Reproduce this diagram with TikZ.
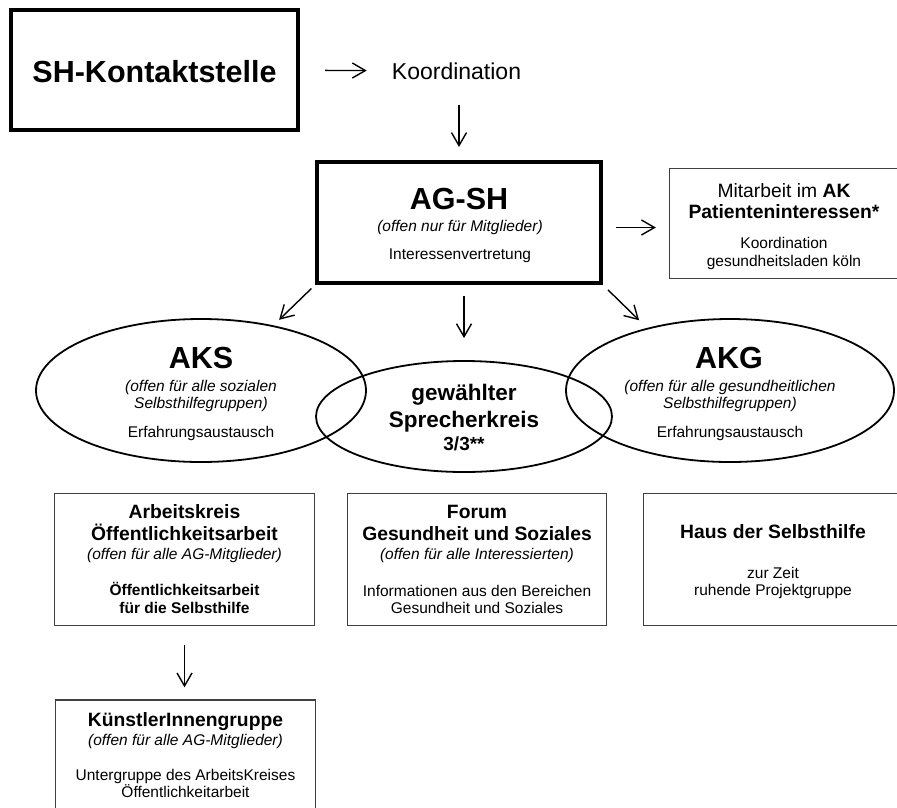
\documentclass[tikz,border=0pt]{standalone}
\usepackage{fontspec}
\setmainfont{Liberation Sans}
\usetikzlibrary{positioning}
\usetikzlibrary{arrows.meta,shapes.geometric}
\usetikzlibrary{calc}
\tikzstyle{thickbox}=[draw,line width=4pt,inner sep=0pt]
\tikzstyle{thinbox}=[draw=black!75,line width=1.3pt,inner sep=0pt]
\tikzstyle{circlegroup}=[ellipse,draw,line width=1.8pt,inner sep=0pt]
\tikzstyle{edge} = [draw,line width=1.4pt,-{Straight Barb[length=13pt,width=15pt]}]
\tikzstyle{bigtext} = [anchor=base,inner sep=0pt,font=\fontsize{30.5}{36}\selectfont\bfseries]
\tikzstyle{midtext} = [anchor=base,inner sep=0pt,font=\fontsize{22.5}{26}\selectfont\bfseries]
\tikzstyle{headtext} = [anchor=base,inner sep=0pt,font=\fontsize{19.3}{23}\selectfont\bfseries]
\tikzstyle{plaintext} = [anchor=base,inner sep=0pt,font=\fontsize{15.5}{18}\selectfont]
\tikzstyle{italtext} = [anchor=base,inner sep=0pt,font=\fontsize{15.5}{18}\selectfont\itshape]
\tikzstyle{boldtext} = [anchor=base,inner sep=0pt,font=\fontsize{15.5}{18}\selectfont\bfseries]

\begin{document}
\begin{tikzpicture}[x=1pt,y=-1pt]
    \useasboundingbox (0,0) rectangle (897,807);
    % First we draw the boxes
    \node[thickbox, minimum width=287pt, minimum height=120pt] (shk) at (154.5,70) {};
    \node[thickbox, minimum width=284pt, minimum height=121pt] (agsh) at (459,222.5) {};
    \foreach \pos/\name/\w/\h in {{(784,223.5)/mit/229/110}, {(184.5,559.5)/akbox/260/132}, {(477,559.5)/forum/259/132}, {(773,559.5)/haus/259/132}, {(185.5,756)/kgbox/260/112}}
        \node[thinbox, minimum width=\w pt, minimum height=\h pt] (\name) at \pos {};

    % Then the three groups
    \foreach \pos/\name/\w/\h in {{(201,390.5)/aks/330/143}, {(464,416.5)/spk/296/111}, {(730,390.5)/akg/328/143}}
        \node[circlegroup, minimum width=\w pt, minimum height=\h pt] (\name) at \pos {};

    % Texts
    \foreach \pos/\name/\label in {{(154.5,82)/shktext/SH-Kontaktstelle}, {(459,209)/agshtext/AG-SH}, {(201,368)/akstext/AKS}, {(729,368)/akgtext/AKG}}
        \node[bigtext] (\name) at \pos {\label};
    \node[anchor=base, inner sep=0pt, font=\fontsize{23}{27}\selectfont] (koord) at (456.5,79) {Koordination};
    \foreach \pos/\name/\label in {{(464,400)/spkone/gewählter}, {(464,427)/spktwo/Sprecherkreis}}
        \node[midtext] (\name) at \pos {\label};
    \node[anchor=base, inner sep=0pt, font=\fontsize{19}{22}\selectfont\bfseries] (spkthree) at (464,450) {3/3**};
    \foreach \pos/\name/\label in {{(784,197)/mitone/{\mdseries Mitarbeit im} AK}, {(784,218)/mittwo/Patienteninteressen*}, {(184.5,518)/akone/Arbeitskreis}, {(184.5,540)/aktwo/Öffentlichkeitsarbeit}, {(477,518)/forumone/Forum}, {(477,540)/forumtwo/Gesundheit und Soziales}, {(773,538)/hausone/Haus der Selbsthilfe}, {(185.5,726)/kgone/KünstlerInnengruppe}}
        \node[headtext] (\name) at \pos {\label};
    \foreach \pos/\name/\label in {{(460,231)/agshopen/(offen nur für Mitglieder)}, {(201,391)/aksopen/(offen für alle sozialen}, {(201,408)/aksopentwo/Selbsthilfegruppen)}, {(730,391)/akgopen/(offen für alle gesundheitlichen}, {(730,408)/akgopentwo/Selbsthilfegruppen)}, {(184.5,559)/akopen/(offen für alle AG-Mitglieder)}, {(477,559)/forumopen/(offen für alle Interessierten)}, {(185.5,745)/kgopen/(offen für alle AG-Mitglieder)}}
        \node[italtext] (\name) at \pos {\label};
    \foreach \pos/\name/\label in {{(460,259)/agshtask/Interessenvertretung}, {(784,248)/mitthree/Koordination}, {(784,266)/mitfour/gesundheitsladen köln}, {(201,437)/akstask/Erfahrungsaustausch}, {(730,437)/akgtask/Erfahrungsaustausch}, {(477,596)/forumtask/Informationen aus den Bereichen}, {(477,613)/forumtasktwo/Gesundheit und Soziales}, {(773,578)/haustask/zur Zeit}, {(773,595)/haustasktwo/ruhende Projektgruppe}, {(185.5,780)/kgtask/Untergruppe des ArbeitsKreises}, {(185.5,797)/kgtasktwo/Öffentlichkeitarbeit}}
        \node[plaintext] (\name) at \pos {\label};
    \foreach \pos/\name/\label in {{(184.5,595)/aktask/Öffentlichkeitsarbeit}, {(184.5,613)/aktasktwo/für die Selbsthilfe}}
        \node[boldtext] (\name) at \pos {\label};

    % Connect boxes with arrows
    \coordinate (agshright) at ($(agsh.east)+(0,5)$);
    \path[edge, shorten <=25pt, shorten >=25pt] (shk) -- (koord);
    \path[edge, shorten <=26pt, shorten >=13pt] (koord.south -| agsh.north) -- (agsh.north);
    \path[edge, shorten <=13pt, shorten >=13pt] (agshright) -- (agshright -| mit.west);
    \path[edge, shorten <=5pt, shorten >=8pt] (agsh.south west) -- (aks.42);
    \path[edge, shorten <=11pt, shorten >=22pt] (agsh.south -| spk.north) -- (spk.north);
    \path[edge, shorten <=7pt, shorten >=11pt] (agsh.south east) -- (akg.143);
    \path[edge, shorten <=19pt, shorten >=12pt] (akbox.south) -- (akbox.south |- kgbox.north);
\end{tikzpicture}
\end{document}
